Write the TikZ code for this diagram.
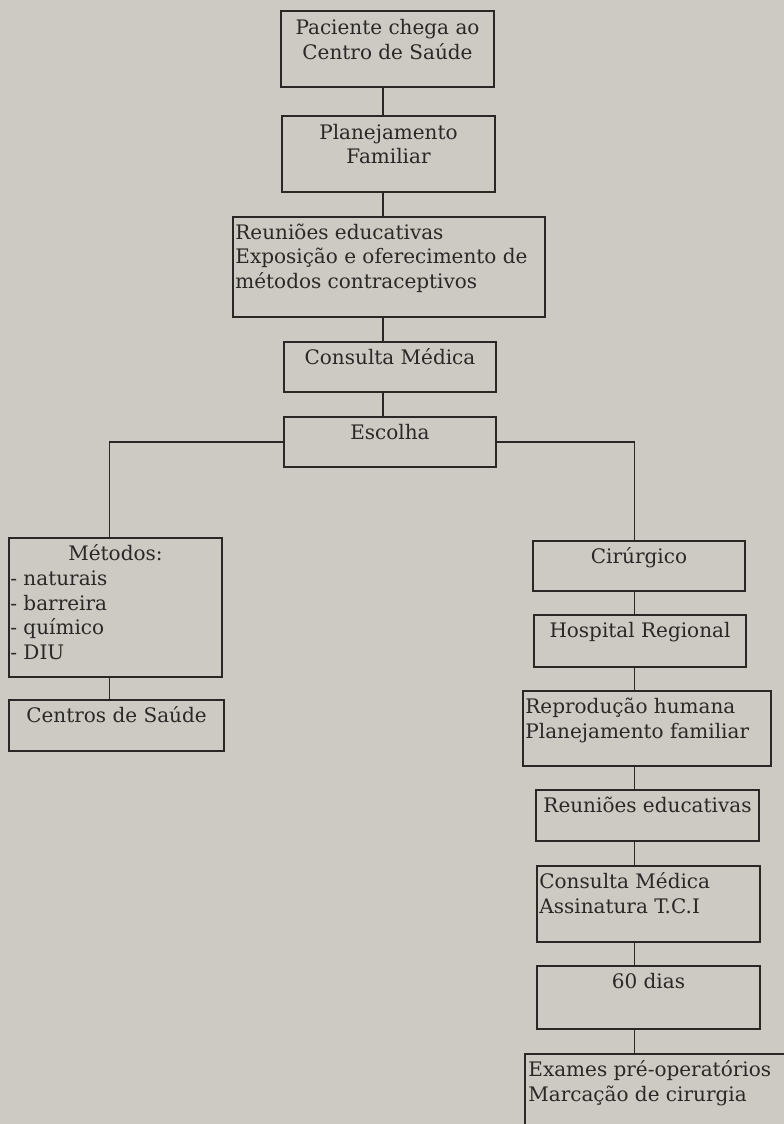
\documentclass[tikz,border=0pt]{standalone}
\usepackage{fontspec}
\setmainfont{DejaVu Serif}
\usetikzlibrary{calc}
\definecolor{paper}{HTML}{CDCAC4}
\definecolor{ink}{HTML}{2A2826}
\begin{document}
\begin{tikzpicture}[x=1pt,y=-1pt,
  box/.style={draw=ink,line width=1.6pt,inner sep=0pt,minimum width=#1},
  txt/.style={text=ink,inner sep=0pt,font=\fontsize{20}{24.5}\selectfont},
  ctxt/.style={txt,align=center,anchor=base},
  ltxt/.style={txt,align=left,anchor=base west},
  conn/.style={draw=ink,line width=1.6pt}]
\useasboundingbox (0,0) rectangle (784,1124);
\fill[paper] (0,0) rectangle (784,1124);
\clip (0,0) rectangle (784,1124);
% trunks
\coordinate (trunk) at (383,0);
\coordinate (ltrunk) at (109.5,0);
\coordinate (rtrunk) at (634.5,0);
% boxes
\node[box=213pt,minimum height=76pt] (b1) at (387.5,49) {};
\node[box=213pt,minimum height=76pt] (b2) at (388.5,154) {};
\node[box=312pt,minimum height=100pt] (b3) at (389,267) {};
\node[box=212pt,minimum height=50pt] (b4) at (390,367) {};
\node[box=212pt,minimum height=50pt] (b5) at (390,442) {};
\node[box=213pt,minimum height=139pt] (b6) at (115.5,607.5) {};
\node[box=215pt,minimum height=51pt] (b7) at (116.5,725.5) {};
\node[box=212pt,minimum height=50pt] (b8) at (639,566) {};
\node[box=212pt,minimum height=52pt] (b9) at (640,641) {};
\node[box=248pt,minimum height=75pt] (b10) at (647,728.5) {};
\node[box=223pt,minimum height=51pt] (b11) at (647.5,815.5) {};
\node[box=223pt,minimum height=76pt] (b12) at (648.5,904) {};
\node[box=223pt,minimum height=63pt] (b13) at (648.5,997.5) {};
\node[box=275pt,minimum height=86pt] (b14) at (662.5,1097) {};
% texts (multi-line nodes: base anchor = last line's baseline)
\node[ctxt] (t1) at ($(b1.north)+(0,49)$) {Paciente chega ao\\Centro de Saúde};
\node[ctxt] (t2) at ($(b2.north)+(0,48.5)$) {Planejamento\\Familiar};
\node[ltxt] (t3) at ($(b3.north west)+(3,72)$) {Reuniões educativas\\Exposição e oferecimento de\\métodos contraceptivos};
\node[ctxt] (t4) at ($(b4.north)+(0,23.5)$) {Consulta Médica};
\node[ctxt] (t5) at ($(b5.north)+(0,23.5)$) {Escolha};
\node[ctxt] (t6) at ($(b6.north)+(0,23.5)$) {Métodos:};
\node[ltxt] (t6b) at ($(b6.north west)+(2,122)$) {- naturais\\- barreira\\- químico\\- DIU};
\node[ctxt] (t7) at ($(b7.north)+(0,23.5)$) {Centros de Saúde};
\node[ctxt] (t8) at ($(b8.north)+(0,23.5)$) {Cirúrgico};
\node[ctxt] (t9) at ($(b9.north)+(0,23.5)$) {Hospital Regional};
\node[ltxt] (t10) at ($(b10.north west)+(3,48)$) {Reprodução humana\\Planejamento familiar};
\node[ctxt] (t11) at ($(b11.north)+(0,23.5)$) {Reuniões educativas};
\node[ltxt] (t12) at ($(b12.north west)+(3,48)$) {Consulta Médica\\Assinatura T.C.I};
\node[ctxt] (t13) at ($(b13.north)+(0,23.5)$) {60 dias};
\node[ltxt] (t14) at ($(b14.north west)+(4,48)$) {Exames pré-operatórios\\Marcação de cirurgia};
% connectors
\draw[conn] (b1.south -| trunk) -- (b2.north -| trunk);
\draw[conn] (b2.south -| trunk) -- (b3.north -| trunk);
\draw[conn] (b3.south -| trunk) -- (b4.north -| trunk);
\draw[conn] (b4.south -| trunk) -- (b5.north -| trunk);
\draw[conn] (b5.west) -| (ltrunk |- b6.north);
\draw[conn] (b6.south -| ltrunk) -- (b7.north -| ltrunk);
\draw[conn] (b5.east) -| (rtrunk |- b8.north);
\draw[conn] (b8.south -| rtrunk) -- (b9.north -| rtrunk);
\draw[conn] (b9.south -| rtrunk) -- (b10.north -| rtrunk);
\draw[conn] (b10.south -| rtrunk) -- (b11.north -| rtrunk);
\draw[conn] (b11.south -| rtrunk) -- (b12.north -| rtrunk);
\draw[conn] (b12.south -| rtrunk) -- (b13.north -| rtrunk);
\draw[conn] (b13.south -| rtrunk) -- (b14.north -| rtrunk);
\end{tikzpicture}
\end{document}
